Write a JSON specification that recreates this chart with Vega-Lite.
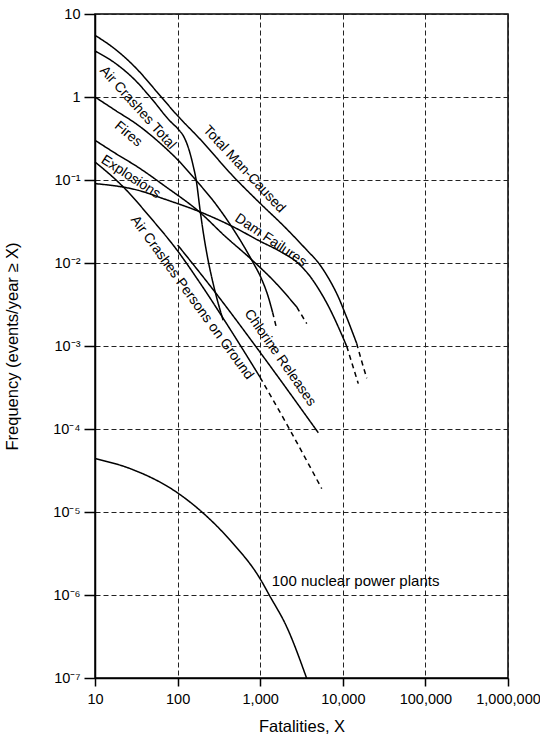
{
  "$schema": "https://vega.github.io/schema/vega-lite/v6.json",
  "width": 413,
  "height": 664,
  "autosize": {"type": "none"},
  "padding": {"left": 95, "top": 14, "right": 32, "bottom": 60},
  "background": "white",
  "config": {
    "font": "Liberation Sans",
    "view": {"stroke": "black", "strokeWidth": 1.5}
  },
  "datasets": {
    "curves": [
      {"part": "tmc", "style": "solid", "x": 10, "y": 5.54},
      {"part": "tmc", "style": "solid", "x": 17.6, "y": 3.76},
      {"part": "tmc", "style": "solid", "x": 30.7, "y": 2.28},
      {"part": "tmc", "style": "solid", "x": 56.7, "y": 1.14},
      {"part": "tmc", "style": "solid", "x": 98.9, "y": 0.602},
      {"part": "tmc", "style": "solid", "x": 188, "y": 0.309},
      {"part": "tmc", "style": "solid", "x": 470, "y": 0.111},
      {"part": "tmc", "style": "solid", "x": 997, "y": 0.0524},
      {"part": "tmc", "style": "solid", "x": 2000, "y": 0.0269},
      {"part": "tmc", "style": "solid", "x": 3690, "y": 0.0142},
      {"part": "tmc", "style": "solid", "x": 5012, "y": 0.0102},
      {"part": "tmc", "style": "solid", "x": 6622, "y": 0.00672},
      {"part": "tmc", "style": "solid", "x": 8750, "y": 0.00397},
      {"part": "tmc", "style": "solid", "x": 11250, "y": 0.00216},
      {"part": "tmc", "style": "solid", "x": 14700, "y": 0.00108},
      {"part": "tmc-d", "style": "dashed", "x": 14700, "y": 0.00108},
      {"part": "tmc-d", "style": "dashed", "x": 16800, "y": 0.000673},
      {"part": "tmc-d", "style": "dashed", "x": 19500, "y": 0.000408},

      {"part": "act", "style": "solid", "x": 10, "y": 3.58},
      {"part": "act", "style": "solid", "x": 17.6, "y": 2.55},
      {"part": "act", "style": "solid", "x": 30.7, "y": 1.59},
      {"part": "act", "style": "solid", "x": 46.6, "y": 1.0},
      {"part": "act", "style": "solid", "x": 81.4, "y": 0.51},
      {"part": "act", "style": "solid", "x": 102, "y": 0.408},
      {"part": "act", "style": "solid", "x": 120, "y": 0.327},
      {"part": "act", "style": "solid", "x": 138, "y": 0.228},
      {"part": "act", "style": "solid", "x": 154, "y": 0.15},
      {"part": "act", "style": "solid", "x": 168, "y": 0.0992},
      {"part": "act", "style": "solid", "x": 188, "y": 0.042},
      {"part": "act", "style": "solid", "x": 210, "y": 0.0198},
      {"part": "act", "style": "solid", "x": 234, "y": 0.0108},
      {"part": "act", "style": "solid", "x": 269, "y": 0.00569},
      {"part": "act", "style": "solid", "x": 310, "y": 0.00327},
      {"part": "act", "style": "solid", "x": 356, "y": 0.00204},

      {"part": "fires", "style": "solid", "x": 10, "y": 1.0},
      {"part": "fires", "style": "solid", "x": 17.6, "y": 0.691},
      {"part": "fires", "style": "solid", "x": 33.4, "y": 0.456},
      {"part": "fires", "style": "solid", "x": 61.6, "y": 0.277},
      {"part": "fires", "style": "solid", "x": 107.5, "y": 0.163},
      {"part": "fires", "style": "solid", "x": 163, "y": 0.102},
      {"part": "fires", "style": "solid", "x": 285, "y": 0.0524},
      {"part": "fires", "style": "solid", "x": 453, "y": 0.0272},
      {"part": "fires", "style": "solid", "x": 791, "y": 0.0108},
      {"part": "fires", "style": "solid", "x": 1055, "y": 0.00619},
      {"part": "fires", "style": "solid", "x": 1246, "y": 0.00397},
      {"part": "fires", "style": "solid", "x": 1412, "y": 0.00255},
      {"part": "fires-d", "style": "dashed", "x": 1412, "y": 0.00255},
      {"part": "fires-d", "style": "dashed", "x": 1579, "y": 0.00163},

      {"part": "expl", "style": "solid", "x": 10, "y": 0.301},
      {"part": "expl", "style": "solid", "x": 17.6, "y": 0.21},
      {"part": "expl", "style": "solid", "x": 33.4, "y": 0.142},
      {"part": "expl", "style": "solid", "x": 70.8, "y": 0.0839},
      {"part": "expl", "style": "solid", "x": 184, "y": 0.0412},
      {"part": "expl", "style": "solid", "x": 376, "y": 0.021},
      {"part": "expl", "style": "solid", "x": 755, "y": 0.0114},
      {"part": "expl", "style": "solid", "x": 1514, "y": 0.00586},
      {"part": "expl", "style": "solid", "x": 2770, "y": 0.00295},
      {"part": "expl-d", "style": "dashed", "x": 2770, "y": 0.00295},
      {"part": "expl-d", "style": "dashed", "x": 3660, "y": 0.00186},

      {"part": "dam", "style": "solid", "x": 10, "y": 0.0905},
      {"part": "dam", "style": "solid", "x": 33.4, "y": 0.0751},
      {"part": "dam", "style": "solid", "x": 70.8, "y": 0.0585},
      {"part": "dam", "style": "solid", "x": 188, "y": 0.0412},
      {"part": "dam", "style": "solid", "x": 474, "y": 0.0272},
      {"part": "dam", "style": "solid", "x": 997, "y": 0.0183},
      {"part": "dam", "style": "solid", "x": 1740, "y": 0.0138},
      {"part": "dam", "style": "solid", "x": 2790, "y": 0.0102},
      {"part": "dam", "style": "solid", "x": 4010, "y": 0.00691},
      {"part": "dam", "style": "solid", "x": 5300, "y": 0.00456},
      {"part": "dam", "style": "solid", "x": 7000, "y": 0.00277},
      {"part": "dam", "style": "solid", "x": 8750, "y": 0.00173},
      {"part": "dam", "style": "solid", "x": 11150, "y": 0.000992},
      {"part": "dam-d", "style": "dashed", "x": 11150, "y": 0.000992},
      {"part": "dam-d", "style": "dashed", "x": 15400, "y": 0.000352},

      {"part": "acpg", "style": "solid", "x": 10, "y": 0.165},
      {"part": "acpg", "style": "solid", "x": 22.2, "y": 0.0817},
      {"part": "acpg", "style": "solid", "x": 46.6, "y": 0.0355},
      {"part": "acpg", "style": "solid", "x": 98.9, "y": 0.0142},
      {"part": "acpg", "style": "solid", "x": 188, "y": 0.00569},
      {"part": "acpg", "style": "solid", "x": 433, "y": 0.00159},
      {"part": "acpg", "style": "solid", "x": 997, "y": 0.00042},
      {"part": "acpg-d", "style": "dashed", "x": 997, "y": 0.00042},
      {"part": "acpg-d", "style": "dashed", "x": 2300, "y": 0.0000967},
      {"part": "acpg-d", "style": "dashed", "x": 5560, "y": 0.0000191},

      {"part": "chlor", "style": "solid", "x": 100, "y": 0.0165},
      {"part": "chlor", "style": "solid", "x": 285, "y": 0.00444},
      {"part": "chlor", "style": "solid", "x": 997, "y": 0.00084},
      {"part": "chlor", "style": "solid", "x": 5055, "y": 0.00009},

      {"part": "nuc", "style": "solid", "x": 10, "y": 0.000044},
      {"part": "nuc", "style": "solid", "x": 26.7, "y": 0.0000333},
      {"part": "nuc", "style": "solid", "x": 102.5, "y": 0.0000167},
      {"part": "nuc", "style": "solid", "x": 197, "y": 0.00001},
      {"part": "nuc", "style": "solid", "x": 433, "y": 0.00000456},
      {"part": "nuc", "style": "solid", "x": 1025, "y": 0.0000015},
      {"part": "nuc", "style": "solid", "x": 1292, "y": 0.000000992},
      {"part": "nuc", "style": "solid", "x": 2097, "y": 0.000000412},
      {"part": "nuc", "style": "solid", "x": 3640, "y": 0.0000001}
    ],
    "labels": [
      {"label": "Total Man-Caused", "x": 638, "y": 0.1346},
      {"label": "Air Crashes Total", "x": 32.9, "y": 0.741},
      {"label": "Fires", "x": 25.3, "y": 0.356},
      {"label": "Explosions", "x": 27.1, "y": 0.1086},
      {"label": "Dam Failures", "x": 1346, "y": 0.01877},
      {"label": "Air Crashes Persons on Ground", "x": 149, "y": 0.00381},
      {"label": "Chlorine Releases", "x": 1740, "y": 0.000721},
      {"label": "100 nuclear power plants", "x": 1381, "y": 0.00000148}
    ]
  },
  "encoding": {
    "x": {
      "field": "x", "type": "quantitative",
      "scale": {"type": "log", "domain": [10, 1000000], "nice": false},
      "axis": {
        "values": [10, 100, 1000, 10000, 100000, 1000000],
        "labelExpr": "format(datum.value, ',')",
        "title": "Fatalities, X",
        "grid": true, "gridDash": [5, 3], "gridColor": "#222", "gridWidth": 1,
        "domainColor": "black", "domainWidth": 1.5,
        "tickColor": "black", "tickSize": 8, "tickWidth": 1.5,
        "labelFontSize": 14.5, "labelColor": "black", "labelPadding": 6,
        "labelOverlap": false, "labelFlush": false, "labelBound": false,
        "titleFontSize": 16.5, "titleFontWeight": "normal", "titleColor": "black", "titlePadding": 13
      }
    },
    "y": {
      "field": "y", "type": "quantitative",
      "scale": {"type": "log", "domain": [0.0000001, 10], "nice": false},
      "axis": {
        "values": [0.0000001, 0.000001, 0.00001, 0.0001, 0.001, 0.01, 0.1, 1, 10],
        "labelExpr": "datum.value >= 5 ? '10' : datum.value >= 0.5 ? '1' : '10' + ['⁻¹','⁻²','⁻³','⁻⁴','⁻⁵','⁻⁶','⁻⁷'][round(-log(datum.value)/LN10) - 1]",
        "title": "Frequency (events/year ≥ X)",
        "grid": true, "gridDash": [5, 3], "gridColor": "#222", "gridWidth": 1,
        "domainColor": "black", "domainWidth": 1.5,
        "tickColor": "black", "tickSize": 11, "tickWidth": 1.5,
        "labelFontSize": 14.5, "labelColor": "black", "labelPadding": 4,
        "labelOverlap": false, "labelFlush": false, "labelBound": false,
        "titleFontSize": 16.5, "titleFontWeight": "normal", "titleColor": "black", "titlePadding": 32
      }
    }
  },
  "layer": [
    {
      "data": {"name": "curves"},
      "mark": {"type": "line", "color": "black", "strokeWidth": 1.5, "interpolate": "monotone"},
      "encoding": {
        "detail": {"field": "part"},
        "strokeDash": {"field": "style", "type": "nominal", "scale": {"domain": ["solid", "dashed"], "range": [[1, 0], [5, 4]]}, "legend": null}
      }
    },
    {
      "data": {"name": "labels"},
      "transform": [{"filter": "datum.label == 'Total Man-Caused'"}],
      "mark": {"type": "text", "angle": 47, "fontSize": 14, "color": "black"},
      "encoding": {"text": {"field": "label"}}
    },
    {
      "data": {"name": "labels"},
      "transform": [{"filter": "datum.label == 'Air Crashes Total'"}],
      "mark": {"type": "text", "angle": 48, "fontSize": 14, "color": "black"},
      "encoding": {"text": {"field": "label"}}
    },
    {
      "data": {"name": "labels"},
      "transform": [{"filter": "datum.label == 'Fires'"}],
      "mark": {"type": "text", "angle": 40, "fontSize": 14, "color": "black"},
      "encoding": {"text": {"field": "label"}}
    },
    {
      "data": {"name": "labels"},
      "transform": [{"filter": "datum.label == 'Explosions'"}],
      "mark": {"type": "text", "angle": 33, "fontSize": 14, "color": "black"},
      "encoding": {"text": {"field": "label"}}
    },
    {
      "data": {"name": "labels"},
      "transform": [{"filter": "datum.label == 'Dam Failures'"}],
      "mark": {"type": "text", "angle": 34, "fontSize": 14, "color": "black"},
      "encoding": {"text": {"field": "label"}}
    },
    {
      "data": {"name": "labels"},
      "transform": [{"filter": "datum.label == 'Air Crashes Persons on Ground'"}],
      "mark": {"type": "text", "angle": 54, "fontSize": 14, "color": "black"},
      "encoding": {"text": {"field": "label"}}
    },
    {
      "data": {"name": "labels"},
      "transform": [{"filter": "datum.label == 'Chlorine Releases'"}],
      "mark": {"type": "text", "angle": 55, "fontSize": 14, "color": "black"},
      "encoding": {"text": {"field": "label"}}
    },
    {
      "data": {"name": "labels"},
      "transform": [{"filter": "datum.label == '100 nuclear power plants'"}],
      "mark": {"type": "text", "angle": 0, "fontSize": 15, "color": "black", "align": "left", "baseline": "middle"},
      "encoding": {"text": {"field": "label"}}
    }
  ]
}
